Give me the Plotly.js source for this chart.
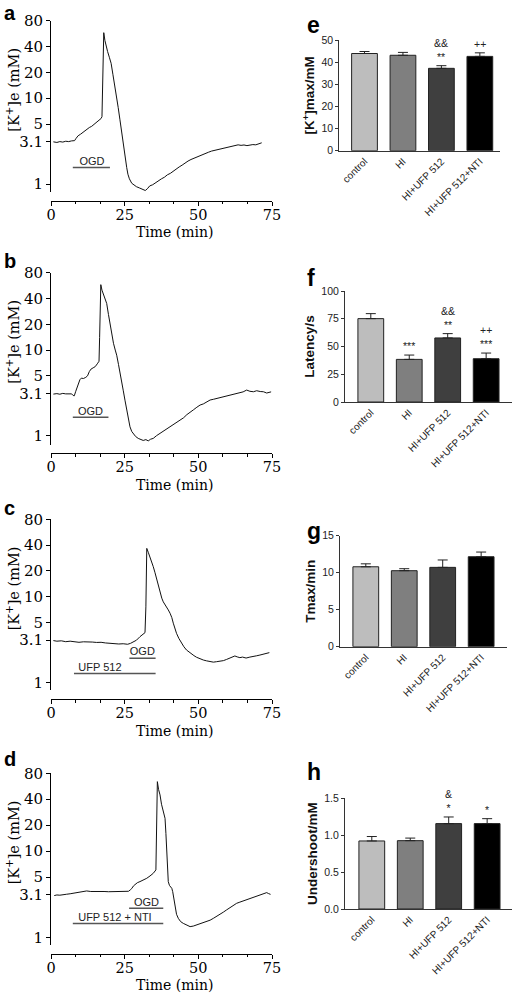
<!DOCTYPE html>
<html><head><meta charset="utf-8">
<script src="https://cdn.plot.ly/plotly-3.0.1.min.js"></script>
<style>body{margin:0;background:#fff}#chart{width:520px;height:995px}</style>
</head><body><div id="chart"></div>
<script>
// ---------- DATA: [K+]e recordings (time in min, concentration in mM) ----------
const tA=[0.8,2,3,4,5,6,7,8,8.5,9.2,10,10.8,11.5,12.3,13,13.8,14.6,15.4,16.2,17.0,17.3,17.55,17.75,17.9,18.3,18.7,19.2,19.8,20.4,21,21.6,22.2,22.8,23.4,24,24.6,25.2,25.7,26.1,26.6,27.4,28,29,30,31,32,32.7,33.5,34.5,35.5,36.5,37.5,38.5,39.5,40.5,41.5,42.5,43.5,44.5,45.5,46.5,47.5,48.5,49.5,50.5,51.5,52.5,53.5,54.5,55.5,56.5,57.5,58.5,59.5,60.5,61.5,62.5,63.5,64.5,65.5,66.5,67.5,68.5,69.5,70.5,71.5];
const kA=[3.10,3.05,3.12,3.08,3.15,3.12,3.18,3.20,3.40,3.65,3.80,4.00,4.10,4.35,4.55,4.70,4.95,5.20,5.45,5.80,6.10,15,45,58,47,40,35,30,25.5,19,14.5,11,7.8,5.6,3.9,2.8,2.05,1.55,1.30,1.15,1.02,0.98,0.93,0.90,0.87,0.84,0.88,0.95,0.98,1.04,1.08,1.15,1.20,1.28,1.33,1.42,1.50,1.58,1.66,1.76,1.85,1.93,2.00,2.08,2.15,2.22,2.30,2.35,2.42,2.46,2.50,2.55,2.60,2.66,2.70,2.76,2.80,2.86,2.82,2.85,2.80,2.84,2.88,2.86,2.92,3.02];

const tB=[0.8,2,3,4,5,6,7,7.5,7.9,8.4,8.8,9.3,9.8,10.3,11,11.8,12.4,13,13.6,14.3,15,15.7,16.3,16.5,16.7,16.9,17.3,17.8,18.4,18.9,19.5,20,20.6,21.2,21.8,22.3,22.9,23.4,24,24.5,25.1,25.7,26.2,26.8,27.4,27.9,28.7,29.6,30.5,31.3,32.2,33,33.8,34.7,35.8,36.9,38,39.2,40.4,41.5,42.7,43.8,45,46.1,47.2,48.3,49.5,50.6,51.7,52.9,54,55.1,56.3,57.4,58.5,59.6,60.7,61.9,63,64.1,65.2,66.4,67.5,68.7,69.8,71,72.1,73.2,74.7];
const kB=[3.06,3.10,3.05,3.12,3.08,3.10,3.08,2.95,2.92,3.30,3.60,4.00,4.50,4.70,4.65,4.80,5.00,5.60,6.00,6.20,6.40,6.90,7.40,14,40,58,50,45,38,35,26,20.5,15,12,10,8.7,6.8,5.3,4.2,3.4,2.6,2.0,1.6,1.27,1.12,1.05,0.98,0.93,0.90,0.88,0.90,0.87,0.91,0.93,1.00,1.06,1.12,1.18,1.27,1.33,1.42,1.52,1.62,1.76,1.90,2.00,2.15,2.28,2.35,2.50,2.61,2.66,2.72,2.80,2.86,2.92,2.98,3.02,3.10,3.18,3.25,3.41,3.30,3.26,3.35,3.28,3.26,3.15,3.25];

const tC=[0.8,2,3.5,5,6.5,8,9.5,11,12.5,14,15.5,17,18.5,20,21.5,23,24.5,26,27,28,29,30.2,31.2,31.9,32.2,32.35,32.5,33,33.6,34.2,34.7,35.3,35.9,36.4,37,37.6,38.1,38.7,39.3,39.8,40.4,41,41.5,42,42.6,43.4,44.3,45.1,46,46.8,47.7,48.5,49.4,50.5,51.7,52.8,54,55.1,56.2,57.3,58.5,59.6,60.7,61.5,62.4,63.2,64.1,65,66.2,67.5,68.7,69.8,70.9,72,73,74.1];
const kC=[3.07,3.02,3.05,2.98,3.02,2.96,2.93,2.97,2.93,2.95,2.92,2.93,2.88,2.85,2.86,2.80,2.82,2.78,2.85,2.98,3.10,3.41,3.60,3.80,7.6,20,36.6,33,29.3,25,22.4,19,15.7,13,10.9,9.6,8.7,8.1,7.6,7.0,6.4,5.7,4.9,4.3,3.73,3.25,2.85,2.6,2.38,2.25,2.14,2.05,1.96,1.88,1.82,1.78,1.74,1.72,1.74,1.75,1.79,1.85,1.91,1.96,2.03,1.98,1.94,1.97,1.92,1.97,1.99,2.04,2.08,2.12,2.18,2.22];

const tD=[1.1,2,3,4,5.3,6.5,7.5,8.7,10,11,12.1,13.5,15,16.6,18,19.5,21.2,22.5,24,25.5,26.3,26.9,27.4,28,28.5,29.3,30.2,31.3,32.5,33.6,34.7,35.6,35.8,35.95,36.1,36.5,37,37.5,38.1,38.7,39.0,39.3,39.6,39.8,40.2,40.6,41,41.3,41.7,42.1,42.6,43.2,44,44.9,46,47.2,48.3,49.4,50.5,51.7,52.8,54,55.1,56.2,57.3,58.5,59.6,60.7,61.9,63,64.1,65.2,66.4,67.5,68.7,69.8,70.9,72,73.2,73.8,74.5];
const kD=[3.05,3.10,3.08,3.14,3.16,3.20,3.25,3.33,3.38,3.45,3.45,3.40,3.42,3.39,3.40,3.38,3.39,3.41,3.38,3.40,3.42,3.55,3.68,3.95,4.12,4.30,4.43,4.60,4.84,5.15,5.53,6.05,11.8,40,64,52,44.9,35,28.7,24,16,10.8,6.5,4.43,4.0,3.87,3.7,3.39,2.7,2.17,1.85,1.66,1.52,1.45,1.38,1.33,1.35,1.39,1.42,1.47,1.52,1.58,1.66,1.74,1.85,1.96,2.08,2.20,2.35,2.48,2.56,2.64,2.71,2.78,2.88,2.96,3.05,3.16,3.30,3.22,3.15];

// treatment bars (label, start/end time in min, level in mM, label centre time)
const treatLabels=[['OGD'],['OGD'],['OGD','UFP 512'],['OGD','UFP 512 + NTI']];
const treatStart=[[7.4],[7.4],[26.6,7.8],[26.5,7.4]];
const treatEnd=[[20.0],[19.5],[35.5,35.5],[38.1,38.1]];
const treatLevel=[[1.56],[1.64],[1.91,1.27],[2.17,1.45]];
const treatTextT=[[13.9],[13.4],[31.0,16.6],[32.4,21.7]];

const logTicks=[1,3.1,5,10,20,40,80];
const timeTicks=[0,25,50,75];

// ---------- DATA: bar panels ----------
const groups=['control','HI','HI+UFP 512','HI+UFP 512+NTI'];
const kmaxMean=[43.9,43.1,37.2,42.6];
const kmaxErr=[0.9,1.3,1.2,1.6];
const kmaxSig=['','','&&<br>**','++'];
const latMean=[75.1,38.4,57.7,39.0];
const latErr=[4.5,3.9,3.9,5.1];
const latSig=['','***','&&<br>**','++<br>***'];
const tmaxMean=[10.8,10.27,10.72,12.16];
const tmaxErr=[0.4,0.27,1.0,0.63];
const tmaxSig=['','','',''];
const underMean=[0.922,0.926,1.157,1.157];
const underErr=[0.06,0.035,0.09,0.067];
const underSig=['','','&<br>*','*'];

// ---------- STYLE / LAYOUT ----------
const W=520,H=995;
const fx=p=>p/W, fy=p=>1-p/H;
const serif='DejaVu Serif, Liberation Serif, serif';
const sans='Liberation Sans, Arial, sans-serif';
const barColors=['#bdbdbd','#7f7f7f','#3f3f3f','#000000'];

const data=[];
const layout={width:W,height:H,margin:{l:0,r:0,t:0,b:0},paper_bgcolor:'#fff',plot_bgcolor:'rgba(0,0,0,0)',
  showlegend:false,annotations:[],hovermode:false};

const leftPanels=[
  {t:tA,k:kA,letter:'a',top:20.7,one:184,bottom:192,axisY:200.5,ly:0},
  {t:tB,k:kB,letter:'b',top:272.7,one:435.7,bottom:445,axisY:453,ly:248},
  {t:tC,k:kC,letter:'c',top:519.3,one:682.3,bottom:690.3,axisY:699,ly:495},
  {t:tD,k:kD,letter:'d',top:773.3,one:937.3,bottom:945.3,axisY:953.5,ly:746}
];
leftPanels.forEach((p,i)=>{
  const n=i+1, xa='x'+n, ya='y'+n;
  const top=Math.log10(80), dec=(p.one-p.top)/top, lo=-(p.bottom-p.one)/dec;
  layout['xaxis'+n]={domain:[fx(51),fx(272)],range:[0,75],anchor:'free',position:fy(p.axisY),
    showline:true,linecolor:'#000',linewidth:1,ticks:'outside',ticklen:4,tickcolor:'#000',ticklabelstandoff:-3,
    tickmode:'array',tickvals:timeTicks,ticktext:timeTicks.map(String),
    minor:{dtick:25/3,tick0:0,ticks:'outside',ticklen:2.5,tickcolor:'#000',showgrid:false},
    showgrid:false,zeroline:false,tickfont:{family:serif,size:14.5,color:'#000'}};
  layout['yaxis'+n]={domain:[fy(p.bottom),fy(p.top)],type:'log',range:[lo,top],anchor:xa,
    showline:true,linecolor:'#000',linewidth:1,ticks:'outside',ticklen:4,tickcolor:'#000',
    tickmode:'array',tickvals:logTicks,ticktext:logTicks.map(String),showgrid:false,zeroline:false,
    tickfont:{family:serif,size:15,color:'#000'}};
  // axis titles
  layout.annotations.push({xref:'paper',yref:'paper',x:fx(175),y:fy(p.axisY+31.5),xanchor:'center',yanchor:'middle',
    text:'Time (min)',showarrow:false,font:{family:serif,size:14,color:'#000'}});
  layout.annotations.push({xref:'paper',yref:'paper',x:fx(13),y:fy(p.top+69),xanchor:'center',yanchor:'middle',
    textangle:-90,text:'[K<sup>+</sup>]e (mM)',showarrow:false,font:{family:serif,size:14.5,color:'#000'}});
  data.push({type:'scatter',mode:'lines',x:p.t,y:p.k,xaxis:xa,yaxis:ya,line:{color:'#111',width:1}});
  treatLabels[i].forEach((lab,j)=>{
    data.push({type:'scatter',mode:'lines',x:[treatStart[i][j],treatEnd[i][j]],y:[treatLevel[i][j],treatLevel[i][j]],
      xaxis:xa,yaxis:ya,line:{color:'#555',width:1.5}});
    data.push({type:'scatter',mode:'text',x:[treatTextT[i][j]],y:[treatLevel[i][j]],text:[lab],textposition:'top center',
      xaxis:xa,yaxis:ya,textfont:{family:sans,size:11,color:'#222'}});
  });
  layout.annotations.push({xref:'paper',yref:'paper',x:fx(2),y:fy(p.ly),xanchor:'left',yanchor:'top',
    text:'<b>'+p.letter+'</b>',showarrow:false,font:{family:sans,size:20,color:'#000'}});
});

const rightPanels=[
  {mean:kmaxMean,err:kmaxErr,sig:kmaxSig,letter:'e',title:'[K<sup>+</sup>]max/mM',ymax:50,dtick:10,fmt:'',
   left:339.3,right:500,top:40,bottom:150.7,c0:364.5,ly:24.7},
  {mean:latMean,err:latErr,sig:latSig,letter:'f',title:'Latency/s',ymax:100,dtick:25,fmt:'',
   left:345,right:511.7,top:291,bottom:402,c0:370.8,ly:278.3},
  {mean:tmaxMean,err:tmaxErr,sig:tmaxSig,letter:'g',title:'Tmax/min',ymax:15,dtick:5,fmt:'',
   left:340,right:506.7,top:535.7,bottom:646.7,c0:365.8,ly:530.6},
  {mean:underMean,err:underErr,sig:underSig,letter:'h',title:'Undershoot/mM',ymax:1.5,dtick:0.5,fmt:'.1f',
   left:345,right:511.7,top:798.3,bottom:909,c0:371.8,ly:771.7}
];
rightPanels.forEach((p,i)=>{
  const n=i+5, xa='x'+n, ya='y'+n, sp=38.45;
  layout['xaxis'+n]={domain:[fx(p.left),fx(p.right)],type:'category',range:[-(p.c0-p.left)/sp,3+(p.right-(p.c0+3*sp))/sp],
    anchor:ya,showline:true,linecolor:'#333',linewidth:1,ticks:'',tickangle:-45,showgrid:false,zeroline:false,
    tickfont:{family:sans,size:10,color:'#222'}};
  layout['yaxis'+n]={domain:[fy(p.bottom),fy(p.top)],range:[0,p.ymax],dtick:p.dtick,tick0:0,tickformat:p.fmt,anchor:xa,
    showline:true,linecolor:'#333',linewidth:1,ticks:'outside',ticklen:3,tickcolor:'#333',showgrid:false,zeroline:false,
    tickfont:{family:sans,size:10.5,color:'#222'},
    title:{text:'<b>'+p.title+'</b>',font:{family:sans,size:13.5,color:'#111'},standoff:3}};
  data.push({type:'bar',x:groups,y:p.mean,xaxis:xa,yaxis:ya,width:0.67,
    marker:{color:barColors,line:{color:'#222',width:1}},
    error_y:{type:'data',symmetric:false,array:p.err,arrayminus:p.err.map(()=>0),color:'#222',thickness:1,width:5}});
  p.sig.forEach((s,j)=>{ if(!s) return;
    layout.annotations.push({xref:xa,yref:ya,x:groups[j],y:p.mean[j]+p.err[j],yanchor:'bottom',xanchor:'center',
      text:s,showarrow:false,yshift:1,font:{family:sans,size:10.5,color:'#222'}});
  });
  layout.annotations.push({xref:'paper',yref:'paper',x:fx(305),y:fy(p.ly),xanchor:'left',yanchor:'middle',
    text:'<b>'+p.letter+'</b>',showarrow:false,font:{family:sans,size:23,color:'#000'}});
});

Plotly.newPlot('chart',data,layout,{staticPlot:true,displayModeBar:false});
</script></body></html>
